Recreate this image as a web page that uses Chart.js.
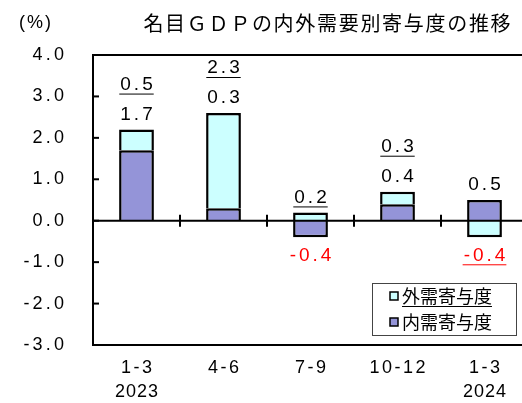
<!doctype html>
<html>
<head>
  <meta charset="utf-8" />
  <title>名目GDPの内外需要別寄与度の推移</title>
  <script src="https://cdn.jsdelivr.net/npm/chart.js"></script>
  <style>
    html, body { margin: 0; padding: 0; background: #fff; overflow: hidden; }
    #wrap { width: 522px; height: 403px; overflow: hidden; }
  </style>
</head>
<body>
<div id="wrap">
  <canvas id="gdpChart" width="540" height="403"></canvas>
</div>

<script>
  var quarters = ['1-3', '4-6', '7-9', '10-12', '1-3']; // 四半期
  var years = ['2023', '', '', '', '2024'];
  var naijuValues = [1.7, 0.3, -0.4, 0.4, 0.5]; // 内需寄与度
  var gaijuValues = [0.5, 2.3, 0.2, 0.3, -0.4]; // 外需寄与度
  var yTicks = [4, 3, 2, 1, 0, -1, -2, -3];
  var titleText = '名目ＧＤＰの内外需要別寄与度の推移';

  var numFont = '"Liberation Sans", Arial, sans-serif';
  var jpFont = '"Noto Sans CJK JP", sans-serif';

  // letterSpacing付きの文字描画（末尾の余白を除いて揃える）
  function spacedText(ctx, text, x, y, align, spacing) {
    ctx.letterSpacing = spacing + 'px';
    var w = ctx.measureText(text).width - spacing;
    var sx = x;
    if (align === 'center') sx = x - w / 2;
    else if (align === 'right') sx = x - w;
    ctx.textAlign = 'left';
    ctx.fillText(text, sx, y);
    ctx.letterSpacing = '0px';
    return { left: sx, width: w };
  }

  var decoPlugin = {
    id: 'deco',
    afterDatasetsDraw: function (chart) {
      var ctx = chart.ctx;
      var area = chart.chartArea;
      var ys = chart.scales.y;
      var xs = chart.scales.x;
      var y0 = ys.getPixelForValue(0);
      ctx.save();
      ctx.strokeStyle = '#000';
      ctx.fillStyle = '#000';

      // ゼロ線
      ctx.lineWidth = 2;
      ctx.beginPath();
      ctx.moveTo(area.left, y0);
      ctx.lineTo(area.right, y0);
      ctx.stroke();

      // 枠
      ctx.strokeRect(area.left, area.top, area.right - area.left, area.bottom - area.top);

      // y目盛
      ctx.font = '18px ' + numFont;
      ctx.textBaseline = 'middle';
      yTicks.forEach(function (v) {
        var py = ys.getPixelForValue(v);
        ctx.beginPath();
        ctx.moveTo(area.left, py);
        ctx.lineTo(area.left + 6, py);
        ctx.stroke();
        spacedText(ctx, v.toFixed(1), 64, py, 'right', 3.2);
      });

      // x区切り目盛
      var step = (area.right - area.left) / quarters.length;
      for (var i = 1; i < quarters.length; i++) {
        var px = area.left + step * i;
        ctx.beginPath();
        ctx.moveTo(px, y0 - 6);
        ctx.lineTo(px, y0 + 6);
        ctx.stroke();
      }

      // x軸ラベル
      quarters.forEach(function (q, i) {
        var cx = xs.getPixelForValue(i);
        spacedText(ctx, q, cx, 368, 'center', 2.5);
        if (years[i]) spacedText(ctx, years[i], cx, 392, 'center', 1);
      });

      // データラベル
      ctx.font = '19px ' + numFont;
      var metaN = chart.getDatasetMeta(0);
      var metaG = chart.getDatasetMeta(1);
      quarters.forEach(function (q, i) {
        var items = [
          { v: naijuValues[i], under: false },
          { v: gaijuValues[i], under: true }
        ];
        var barTop = Math.min(metaN.data[i].y, metaN.data[i].base, metaG.data[i].y, metaG.data[i].base);
        var barBottom = Math.max(metaN.data[i].y, metaN.data[i].base, metaG.data[i].y, metaG.data[i].base);
        var cx = xs.getPixelForValue(i);
        var up = 0, down = 0;
        items.forEach(function (it) {
          var py;
          if (it.v >= 0) {
            py = barTop - (up === 0 ? 15 : 45);
            up++;
          } else {
            py = barBottom + 18 + down * 28;
            down++;
          }
          ctx.fillStyle = it.v < 0 ? '#ff0000' : '#000';
          ctx.strokeStyle = ctx.fillStyle;
          var r = spacedText(ctx, it.v.toFixed(1), cx, py, 'center', 3);
          if (it.under) {
            ctx.lineWidth = 1;
            ctx.beginPath();
            ctx.moveTo(r.left - 1, py + 9.5);
            ctx.lineTo(r.left + r.width + 1, py + 9.5);
            ctx.stroke();
          }
        });
      });

      // タイトル
      ctx.fillStyle = '#000';
      ctx.font = '20px ' + jpFont;
      spacedText(ctx, titleText, 327, 23, 'center', 1.7);
      ctx.font = '18px ' + numFont;
      spacedText(ctx, '(%)', 35, 23, 'center', 2);

      // 凡例
      ctx.fillStyle = '#fff';
      ctx.fillRect(372, 283, 144, 52);
      ctx.strokeStyle = '#444';
      ctx.lineWidth = 1;
      ctx.strokeRect(372.5, 283.5, 144, 52);
      var legendItems = [chart.data.datasets[1], chart.data.datasets[0]];
      legendItems.forEach(function (ds, k) {
        var ly = 296 + k * 26;
        ctx.fillStyle = ds.backgroundColor;
        ctx.fillRect(390, ly - 4, 8, 8);
        ctx.strokeStyle = '#000';
        ctx.lineWidth = 1.5;
        ctx.strokeRect(390, ly - 4, 8, 8);
        ctx.fillStyle = '#000';
        ctx.font = '18px ' + jpFont;
        var r = spacedText(ctx, ds.label, 402, ly, 'left', 0);
        if (k === 0) {
          ctx.lineWidth = 1;
          ctx.beginPath();
          ctx.moveTo(r.left, ly + 10.5);
          ctx.lineTo(r.left + r.width, ly + 10.5);
          ctx.stroke();
        }
      });
      ctx.restore();
    }
  };

  var ctx = document.getElementById('gdpChart').getContext('2d');
  var gdpChart = new Chart(ctx, {
    type: 'bar',
    data: {
      labels: quarters,
      datasets: [
        {
          label: '内需寄与度',
          data: naijuValues,
          backgroundColor: '#9494d8',
          borderColor: '#000',
          borderWidth: 2.5,
          borderSkipped: 'start',
          categoryPercentage: 1,
          barPercentage: 0.4
        },
        {
          label: '外需寄与度',
          data: gaijuValues,
          backgroundColor: '#ccffff',
          borderColor: '#000',
          borderWidth: 2.5,
          borderSkipped: 'start',
          categoryPercentage: 1,
          barPercentage: 0.4
        }
      ]
    },
    options: {
      responsive: false,
      animation: false,
      devicePixelRatio: 1,
      layout: { padding: { left: 93, top: 55, right: 12, bottom: 58 } },
      scales: {
        x: { display: false, stacked: true },
        y: { display: false, stacked: true, min: -3, max: 4 }
      },
      plugins: {
        legend: { display: false },
        tooltip: { enabled: false }
      }
    },
    plugins: [decoPlugin]
  });
</script>
</body>
</html>
